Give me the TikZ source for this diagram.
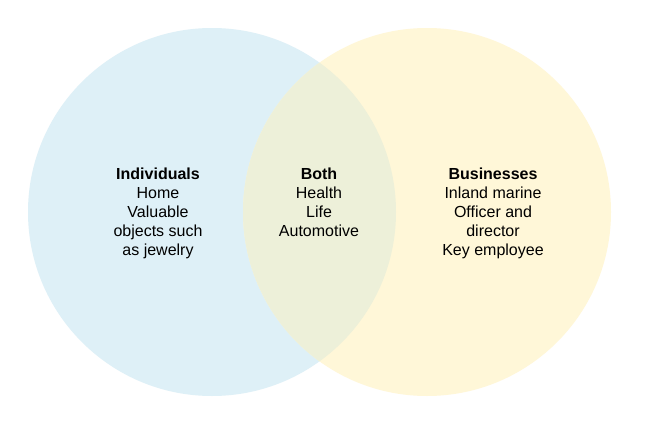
\documentclass[tikz,border=0pt]{standalone}
\usepackage{fontspec}
\setmainfont{Liberation Sans}
\definecolor{indblue}{RGB}{222,240,247}
\definecolor{busyellow}{RGB}{255,247,216}
\definecolor{bothmix}{RGB}{237,240,217}
\begin{document}
\begin{tikzpicture}[x=1pt,y=-1pt,
  label text/.style={align=center,anchor=base,inner sep=0pt,font=\fontsize{16}{19}\selectfont}]
\useasboundingbox (0,0) rectangle (648,442);
\fill[white] (0,0) rectangle (648,442);
\coordinate (cl) at (212,212);
\coordinate (cr) at (427,212);
\fill[indblue] (cl) circle (184pt);
\fill[busyellow] (cr) circle (184pt);
\begin{scope}
  \clip (cl) circle (184pt);
  \fill[bothmix] (cr) circle (184pt);
\end{scope}
\node[label text] (ind) at (158,255) {\textbf{Individuals}\\Home\\Valuable\\objects such\\as jewelry};
\node[label text] (both) at (319,236) {\textbf{Both}\\Health\\Life\\Automotive};
\node[label text] (bus) at (493,255) {\textbf{Businesses}\\Inland marine\\Officer and\\director\\Key employee};
\end{tikzpicture}
\end{document}
